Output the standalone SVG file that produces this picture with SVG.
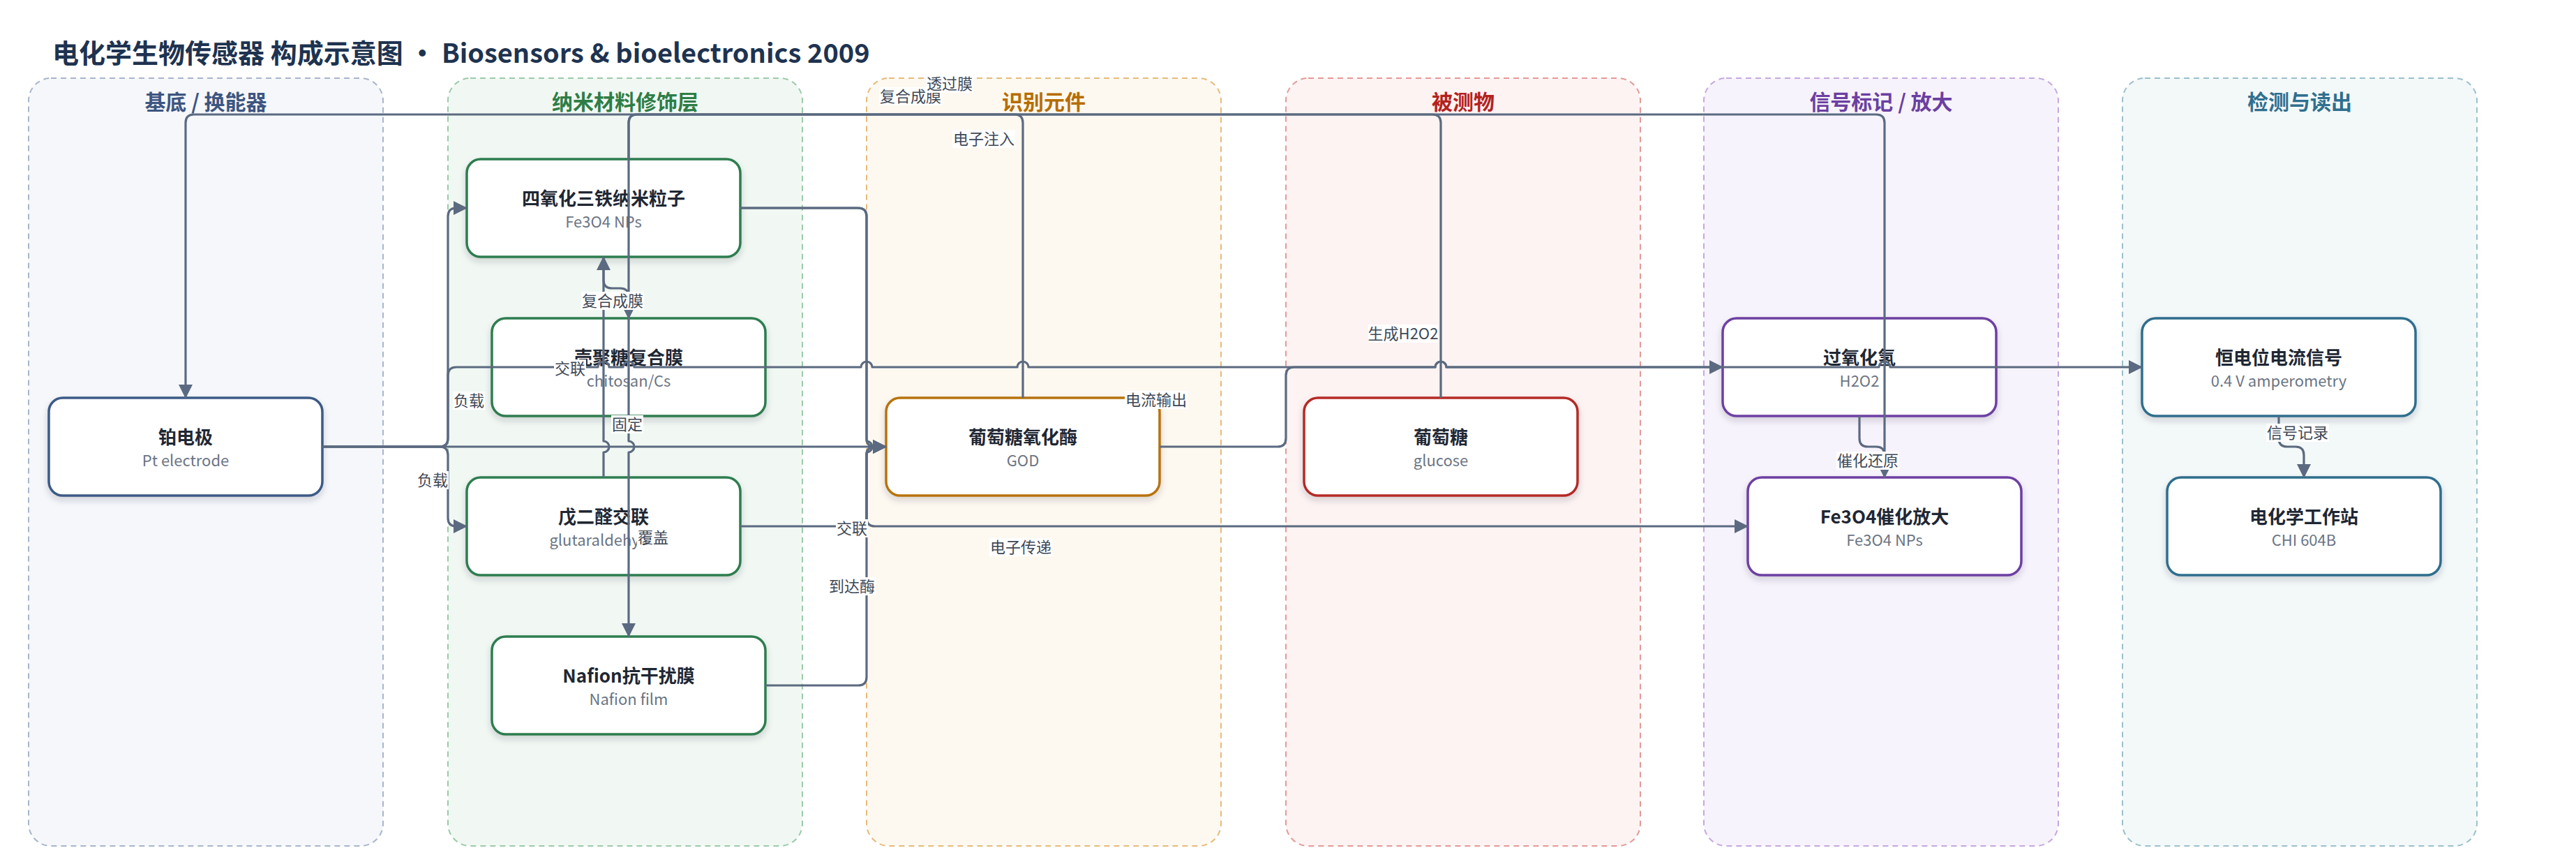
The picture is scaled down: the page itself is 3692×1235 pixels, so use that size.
<svg xmlns="http://www.w3.org/2000/svg" width="3692" height="1235" viewBox="0 0 3692 1235">
<defs>
<style>
text{font-family:"Noto Sans CJK SC","Noto Sans",sans-serif;}
.title{font-size:38px;font-weight:700;fill:#1e3350;}
.lane{stroke-width:2;stroke-dasharray:8 6;}
.lt{font-size:30px;font-weight:700;text-anchor:middle;}
.node rect{fill:#fff;stroke-width:3.5;filter:url(#sh);}
.nt{font-size:26px;font-weight:700;fill:#1f2733;text-anchor:middle;}
.ns{font-size:22px;fill:#6b7584;text-anchor:middle;}
.e{fill:none;stroke:#5b6a80;stroke-width:3.2;stroke-linejoin:round;}
.ea{marker-end:url(#ah);}
.lb rect{fill:#fff;}
.lb text{font-size:22px;fill:#3e4856;text-anchor:middle;}
</style>
<marker id="ah" viewBox="0 0 20 20" refX="19" refY="10" markerWidth="20" markerHeight="20" markerUnits="userSpaceOnUse" orient="auto"><path d="M0,0L20,10L0,20z" fill="#5b6a80"/></marker>
<filter id="sh" x="-10%" y="-10%" width="120%" height="140%"><feDropShadow dx="0" dy="5" stdDeviation="5" flood-color="#1e293b" flood-opacity="0.18"/></filter>
</defs>
<rect width="3692" height="1235" fill="#fff"/>
<text class="title" x="75" y="90">电化学生物传感器 构成示意图 · Biosensors &amp; bioelectronics 2009</text>
<g id="lanes">
<g id="lane-substrate"><rect class="lane" x="41" y="112" width="508" height="1100" rx="32" fill="#f5f7fb" stroke="#a8b5cb"/><text class="lt" x="295" y="157" fill="#3d5580">基底 / 换能器</text></g>
<g id="lane-nano"><rect class="lane" x="642" y="112" width="508" height="1100" rx="32" fill="#f1f8f3" stroke="#9ccaa9"/><text class="lt" x="896" y="157" fill="#2e7d46">纳米材料修饰层</text></g>
<g id="lane-recog"><rect class="lane" x="1242" y="112" width="508" height="1100" rx="32" fill="#fef9f0" stroke="#e5bb7a"/><text class="lt" x="1496" y="157" fill="#b56d00">识别元件</text></g>
<g id="lane-analyte"><rect class="lane" x="1843" y="112" width="508" height="1100" rx="32" fill="#fdf3f2" stroke="#e29a98"/><text class="lt" x="2097" y="157" fill="#b3221e">被测物</text></g>
<g id="lane-signal"><rect class="lane" x="2442" y="112" width="508" height="1100" rx="32" fill="#f7f3fc" stroke="#c4a8e0"/><text class="lt" x="2696" y="157" fill="#6b3fa0">信号标记 / 放大</text></g>
<g id="lane-readout"><rect class="lane" x="3042" y="112" width="508" height="1100" rx="32" fill="#f3f8f9" stroke="#9cc0cc"/><text class="lt" x="3296" y="157" fill="#2f6f8f">检测与读出</text></g>
</g>
<g id="nodes">
<g id="n-pt" class="node"><rect x="70" y="570" width="392" height="140" rx="20" stroke="#3d5a86"/><text class="nt" x="266" y="636">铂电极</text><text class="ns" x="266" y="668">Pt electrode</text></g>
<g id="n-fe3o4" class="node"><rect x="669" y="228" width="392" height="140" rx="20" stroke="#2e7d4f"/><text class="nt" x="865" y="294">四氧化三铁纳米粒子</text><text class="ns" x="865" y="326">Fe3O4 NPs</text></g>
<g id="n-cs" class="node"><rect x="705" y="456" width="392" height="140" rx="20" stroke="#2e7d4f"/><text class="nt" x="901" y="522">壳聚糖复合膜</text><text class="ns" x="901" y="554">chitosan/Cs</text></g>
<g id="n-glu" class="node"><rect x="669" y="684" width="392" height="140" rx="20" stroke="#2e7d4f"/><text class="nt" x="865" y="750">戊二醛交联</text><text class="ns" x="865" y="782">glutaraldehyde</text></g>
<g id="n-nafion" class="node"><rect x="705" y="912" width="392" height="140" rx="20" stroke="#2e7d4f"/><text class="nt" x="901" y="978">Nafion抗干扰膜</text><text class="ns" x="901" y="1010">Nafion film</text></g>
<g id="n-god" class="node"><rect x="1270" y="570" width="392" height="140" rx="20" stroke="#b8730b"/><text class="nt" x="1466" y="636">葡萄糖氧化酶</text><text class="ns" x="1466" y="668">GOD</text></g>
<g id="n-glucose" class="node"><rect x="1869" y="570" width="392" height="140" rx="20" stroke="#b52a25"/><text class="nt" x="2065" y="636">葡萄糖</text><text class="ns" x="2065" y="668">glucose</text></g>
<g id="n-h2o2" class="node"><rect x="2469" y="456" width="392" height="140" rx="20" stroke="#6d3fa3"/><text class="nt" x="2665" y="522">过氧化氢</text><text class="ns" x="2665" y="554">H2O2</text></g>
<g id="n-amp" class="node"><rect x="2505" y="684" width="392" height="140" rx="20" stroke="#6d3fa3"/><text class="nt" x="2701" y="750">Fe3O4催化放大</text><text class="ns" x="2701" y="782">Fe3O4 NPs</text></g>
<g id="n-signal" class="node"><rect x="3070" y="456" width="392" height="140" rx="20" stroke="#2f6e8c"/><text class="nt" x="3266" y="522">恒电位电流信号</text><text class="ns" x="3266" y="554">0.4 V amperometry</text></g>
<g id="n-station" class="node"><rect x="3106" y="684" width="392" height="140" rx="20" stroke="#2f6e8c"/><text class="nt" x="3302" y="750">电化学工作站</text><text class="ns" x="3302" y="782">CHI 604B</text></g>
</g>
<g id="connectors">
<path class="e ea" d="M462,640 H630 Q642,640 642,628 V310 Q642,298 654,298 H669"/>
<path class="e ea" d="M462,640 H630 Q642,640 642,652 V742 Q642,754 654,754 H669"/>
<path class="e ea" d="M462,640 H1270"/>
<path class="e ea" d="M462,640 H630 Q642,640 642,628 V538 Q642,526 654,526 H857 a8,8 0 0 1 16,0 H893 a8,8 0 0 1 16,0 H1234 a8,8 0 0 1 16,0 H1458 a8,8 0 0 1 16,0 H2057 a8,8 0 0 1 16,0 H2469"/>
<path class="e ea" d="M1466,570 V176 Q1466,164 1454,164 H278 Q266,164 266,176 V570"/>
<path class="e ea" d="M2065,570 V176 Q2065,164 2053,164 H913 Q901,164 901,176 V456"/>
<path class="e ea" d="M901,228 V176 Q901,164 913,164 H2689 Q2701,164 2701,176 V684"/>
<path class="e ea" d="M865,368 V401 Q865,413 877,413 H889 Q901,413 901,425 V456"/>
<path class="e ea" d="M865,684 V648 a8,8 0 0 0 0,-16 V368"/>
<path class="e ea" d="M901,456 V632 a8,8 0 0 1 0,16 V912"/>
<path class="e ea" d="M1061,298 H1230 Q1242,298 1242,310 V628 Q1242,640 1254,640 H1270"/>
<path class="e ea" d="M1061,298 H1230 Q1242,298 1242,310 V632 a8,8 0 0 1 0,16 V742 Q1242,754 1254,754 H2505"/>
<path class="e ea" d="M1061,754 H1230 Q1242,754 1242,742 V652 Q1242,640 1254,640 H1270"/>
<path class="e ea" d="M1097,982 H1230 Q1242,982 1242,970 V652 Q1242,640 1254,640 H1270"/>
<path class="e ea" d="M1662,640 H1831 Q1843,640 1843,628 V538 Q1843,526 1855,526 H2057 a8,8 0 0 1 16,0 H2693 a8,8 0 0 1 16,0 H3070"/>
<path class="e ea" d="M2665,596 V628 Q2665,640 2677,640 H2689 Q2701,640 2701,652 V684"/>
<path class="e ea" d="M3266,596 V628 Q3266,640 3278,640 H3290 Q3302,640 3302,652 V684"/>
</g>
<g id="edge-labels">
<g class="lb"><rect x="649" y="561" width="46" height="26"/><text x="672" y="582">负载</text></g>
<g class="lb"><rect x="597" y="675" width="46" height="26"/><text x="620" y="696">负载</text></g>
<g class="lb"><rect x="794" y="515" width="46" height="26"/><text x="817" y="536">交联</text></g>
<g class="lb"><rect x="833" y="418" width="90" height="26"/><text x="878" y="439">复合成膜</text></g>
<g class="lb"><rect x="876" y="595" width="46" height="26"/><text x="899" y="616">固定</text></g>
<g class="lb"><rect x="913" y="757" width="46" height="26"/><text x="936" y="778">覆盖</text></g>
<g class="lb"><rect x="1198" y="744" width="46" height="26"/><text x="1221" y="765">交联</text></g>
<g class="lb"><rect x="1187" y="827" width="68" height="26"/><text x="1221" y="848">到达酶</text></g>
<g class="lb"><rect x="1260" y="125" width="90" height="26"/><text x="1305" y="146">复合成膜</text></g>
<g class="lb"><rect x="1327" y="107" width="68" height="26"/><text x="1361" y="128">透过膜</text></g>
<g class="lb"><rect x="1365" y="186" width="90" height="26"/><text x="1410" y="207">电子注入</text></g>
<g class="lb"><rect x="1612" y="560" width="90" height="26"/><text x="1657" y="581">电流输出</text></g>
<g class="lb"><rect x="1418" y="771" width="90" height="26"/><text x="1463" y="792">电子传递</text></g>
<g class="lb"><rect x="1961" y="465" width="100" height="26"/><text x="2011" y="486">生成H2O2</text></g>
<g class="lb"><rect x="2632" y="647" width="90" height="26"/><text x="2677" y="668">催化还原</text></g>
<g class="lb"><rect x="3248" y="607" width="90" height="26"/><text x="3293" y="628">信号记录</text></g>
</g>
</svg>
